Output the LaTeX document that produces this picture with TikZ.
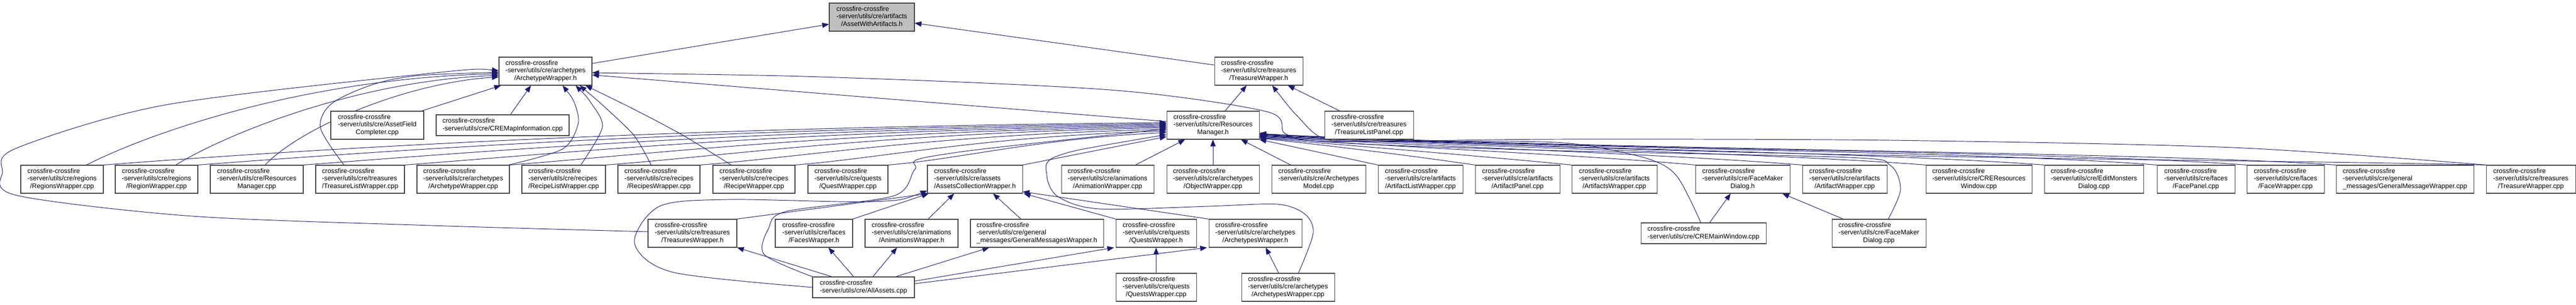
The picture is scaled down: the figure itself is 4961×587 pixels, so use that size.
\documentclass[tikz,border=0pt]{standalone}
\usepackage{fontspec}
\setmainfont{Liberation Sans}
\usetikzlibrary{arrows.meta,calc}
\definecolor{edgeblue}{RGB}{25,25,112}
\definecolor{curgray}{RGB}{191,191,191}
\pgfdeclarelayer{background}
\pgfsetlayers{background,main}
\newcommand{\flab}[3]{\begin{tabular}{@{}l@{}}#1\\#2\\\multicolumn{1}{@{}c@{}}{#3}\end{tabular}}
\newcommand{\flabb}[2]{\begin{tabular}{@{}l@{}}#1\\#2\end{tabular}}
\newcommand{\cfx}{crossfire-crossfire}
\newcommand{\srv}{-server/utils/cre/}

\begin{document}
\begin{tikzpicture}[x=0.02cm, y=-0.02cm,
	fb/.style={draw=black!75, line width=0.6pt, fill=white, inner sep=0pt, minimum height=1.08cm, font=\fontsize{7.3}{8.3}\selectfont},
	fbb/.style={fb, minimum height=0.8cm},
	wd/.style={minimum width=#1*0.02cm},
	dep/.style={{Triangle[length=0.26cm,width=0.2cm]}-, draw=edgeblue, line width=0.55pt}]
	\useasboundingbox (0,0) rectangle (4961,587);

	% row 1 and 2
	\node[fb, wd=164, fill=curgray] (aswa) at (1679,33) {\flab{\cfx}{\srv artifacts}{/AssetWithArtifacts.h}};
	\node[fb, wd=179] (arwh) at (1050.5,137) {\flab{\cfx}{\srv archetypes}{/ArchetypeWrapper.h}};
	\node[fb, wd=170] (trwh) at (2424,137) {\flab{\cfx}{\srv treasures}{/TreasureWrapper.h}};

	% row 3
	\node[fb, wd=179] (afc) at (726.5,241) {\flab{\cfx}{\srv AssetField}{Completer.cpp}};
	\node[fbb, wd=256] (cmi) at (968,241) {\flabb{\cfx}{\srv CREMapInformation.cpp}};
	\node[fb, wd=178] (rmh) at (2336,241) {\flab{\cfx}{\srv Resources}{Manager.h}};
	\node[fb, wd=171] (tlp) at (2636.5,241) {\flab{\cfx}{\srv treasures}{/TreasureListPanel.cpp}};

	% row 4
	\node[fb, wd=159] (rsw) at (119.5,345) {\flab{\cfx}{\srv regions}{/RegionsWrapper.cpp}};
	\node[fb, wd=159] (rgw) at (301.5,345) {\flab{\cfx}{\srv regions}{/RegionWrapper.cpp}};
	\node[fb, wd=179] (rmc) at (494.5,345) {\flab{\cfx}{\srv Resources}{Manager.cpp}};
	\node[fb, wd=171] (tlw) at (693.5,345) {\flab{\cfx}{\srv treasures}{/TreasureListWrapper.cpp}};
	\node[fb, wd=178] (awc) at (892,345) {\flab{\cfx}{\srv archetypes}{/ArchetypeWrapper.cpp}};
	\node[fb, wd=161] (rlw) at (1085.5,345) {\flab{\cfx}{\srv recipes}{/RecipeListWrapper.cpp}};
	\node[fb, wd=158] (rsc) at (1269,345) {\flab{\cfx}{\srv recipes}{/RecipesWrapper.cpp}};
	\node[fb, wd=158] (rpw) at (1452,345) {\flab{\cfx}{\srv recipes}{/RecipeWrapper.cpp}};
	\node[fb, wd=154] (qwc) at (1633,345) {\flab{\cfx}{\srv quests}{/QuestWrapper.cpp}};
	\node[fb, wd=183] (acw) at (1877.5,345) {\flab{\cfx}{\srv assets}{/AssetsCollectionWrapper.h}};
	\node[fb, wd=178] (anw) at (2133,345) {\flab{\cfx}{\srv animations}{/AnimationWrapper.cpp}};
	\node[fb, wd=178] (obw) at (2336,345) {\flab{\cfx}{\srv archetypes}{/ObjectWrapper.cpp}};
	\node[fb, wd=181] (amc) at (2539.5,345) {\flab{\cfx}{\srv Archetypes}{Model.cpp}};
	\node[fb, wd=163] (alw) at (2735.5,345) {\flab{\cfx}{\srv artifacts}{/ArtifactListWrapper.cpp}};
	\node[fb, wd=163] (apc) at (2922.5,345) {\flab{\cfx}{\srv artifacts}{/ArtifactPanel.cpp}};
	\node[fb, wd=164] (asw) at (3109,345) {\flab{\cfx}{\srv artifacts}{/ArtifactsWrapper.cpp}};
	\node[fb, wd=182] (fmh) at (3356,345) {\flab{\cfx}{\srv FaceMaker}{Dialog.h}};
	\node[fb, wd=163] (afw) at (3552.5,345) {\flab{\cfx}{\srv artifacts}{/ArtifactWrapper.cpp}};
	\node[fb, wd=204] (crw) at (3811,345) {\flab{\cfx}{\srv CREResources}{Window.cpp}};
	\node[fb, wd=191] (emd) at (4032.5,345) {\flab{\cfx}{\srv EditMonsters}{Dialog.cpp}};
	\node[fb, wd=150] (fpc) at (4229,345) {\flab{\cfx}{\srv faces}{/FacePanel.cpp}};
	\node[fb, wd=149] (fwc) at (4401.5,345) {\flab{\cfx}{\srv faces}{/FaceWrapper.cpp}};
	\node[fb, wd=265] (gmw) at (4631.5,345) {\flab{\cfx}{\srv general}{\_messages/GeneralMessageWrapper.cpp}};
	\node[fb, wd=172] (twc) at (4874,345) {\flab{\cfx}{\srv treasures}{/TreasureWrapper.cpp}};

	% row 5
	\node[fb, wd=171] (tsh) at (1333.5,449) {\flab{\cfx}{\srv treasures}{/TreasuresWrapper.h}};
	\node[fb, wd=149] (fsh) at (1567.5,449) {\flab{\cfx}{\srv faces}{/FacesWrapper.h}};
	\node[fb, wd=179] (ash) at (1755.5,449) {\flab{\cfx}{\srv animations}{/AnimationsWrapper.h}};
	\node[fb, wd=256] (gmh) at (1997,449) {\flab{\cfx}{\srv general}{\_messages/GeneralMessagesWrapper.h}};
	\node[fb, wd=155] (qsh) at (2226.5,449) {\flab{\cfx}{\srv quests}{/QuestsWrapper.h}};
	\node[fb, wd=179] (ath) at (2417.5,449) {\flab{\cfx}{\srv archetypes}{/ArchetypesWrapper.h}};
	\node[fbb, wd=241] (cmw) at (3280.5,449) {\flabb{\cfx}{\srv CREMainWindow.cpp}};
	\node[fb, wd=181] (fmc) at (3618.5,449) {\flab{\cfx}{\srv FaceMaker}{Dialog.cpp}};

	% row 6
	\node[fbb, wd=196] (aac) at (1663,553) {\flabb{\cfx}{\srv AllAssets.cpp}};
	\node[fb, wd=155] (qsc) at (2226.5,553) {\flab{\cfx}{\srv quests}{/QuestsWrapper.cpp}};
	\node[fb, wd=179] (atc) at (2480.5,553) {\flab{\cfx}{\srv archetypes}{/ArchetypesWrapper.cpp}};

	\begin{pgfonlayer}{background}
	% AssetWithArtifacts.h
	\draw[dep] (aswa) -- (arwh);
	\draw[dep] (aswa) -- (trwh);
	% TreasureWrapper.h
	\draw[dep] (trwh) -- (rmh);
	\draw[dep] (trwh) -- (tlp);
	\draw[dep] plot[smooth] coordinates {($(trwh.south)+(26,0)$) (2500,225) (2548,266) (2640,272) (3000,268) (3640,270) (4300,284) (twc.north west)};
	% ArchetypeWrapper.h
	\draw[dep] (arwh) -- (rmh);
	\draw[dep] (arwh) -- (afc);
	\draw[dep] ($(arwh.south)+(-28,0)$) -- ($(cmi.north)+(15,0)$);
	\draw[dep] plot[smooth] coordinates {($(arwh.west)+(0,-1)$) (830,141) (318,202) (32,285) (5,330) (32,376) (370,416) (830,434) ($(tsh.west)+(0,-3)$)};
	\draw[dep] ($(arwh.west)+(0,5)$) .. controls (600,150) and (300,250) .. ($(rsw.north)+(47,0)$);
	\draw[dep] ($(arwh.west)+(0,8)$) .. controls (700,155) and (450,250) .. ($(rgw.north)+(37,0)$);
	\draw[dep] ($(arwh.west)+(0,11)$) .. controls (780,160) and (580,245) .. ($(rmc.north)+(16,0)$);
	\draw[dep] plot[smooth] coordinates {($(arwh.west)+(0,2)$) (760,152) (645,195) (617,245) ($(tlw.north)+(-31,0)$)};
	\draw[dep] plot[smooth] coordinates {($(arwh.south)+(33,0)$) (1107,200) (1113,240) (1083,287) ($(awc.north east)+(-2,0)$)};
	\draw[dep] plot[smooth] coordinates {($(arwh.south)+(58,0)$) (1138,198) (1160,245) ($(rlw.north)+(33,0)$)};
	\draw[dep] plot[smooth] coordinates {($(arwh.south)+(66,0)$) (1169,210) (1222,262) ($(rsc.north)+(-15,0)$)};
	\draw[dep] plot[smooth] coordinates {($(arwh.south)+(77,0)$) (1230,215) (1318,262) ($(rpw.north)+(-44,0)$)};
	\draw[dep] plot[smooth] coordinates {($(arwh.east)+(0,3)$) (1640,150) (2150,174) (2440,215) (2475,257) (2550,272) (2907,272) (3041,278) (3175,306) (3230,340) ($(cmw.north)+(-5,0)$)};
	% ResourcesManager.h
	\draw[dep] ($(rmh.west)+(0,-5)$) .. controls (1250,245) and (560,290) .. (rsw.north east);
	\draw[dep] ($(rmh.west)+(0,-3)$) .. controls (1330,247) and (720,292) .. (rgw.north east);
	\draw[dep] ($(rmh.west)+(0,-1)$) .. controls (1420,249) and (900,294) .. (rmc.north east);
	\draw[dep] ($(rmh.west)+(0,1)$) .. controls (1510,251) and (1070,296) .. (tlw.north east);
	\draw[dep] ($(rmh.west)+(0,3)$) .. controls (1610,253) and (1240,298) .. (awc.north east);
	\draw[dep] ($(rmh.west)+(0,5)$) .. controls (1700,256) and (1400,300) .. (rlw.north east);
	\draw[dep] ($(rmh.west)+(0,8)$) .. controls (1800,259) and (1550,302) .. (rsc.north east);
	\draw[dep] ($(rmh.west)+(0,11)$) .. controls (1890,263) and (1700,304) .. (rpw.north east);
	\draw[dep] ($(rmh.west)+(0,14)$) .. controls (1990,268) and (1850,306) .. (qwc.north east);
	\draw[dep] ($(rmh.west)+(0,22)$) -- (acw.north east);
	\draw[dep] plot[smooth] coordinates {($(rmh.west)+(0,7)$) (1799,300) (1762,326) (1721,377) (1514,407) (1480,440) (1472,490) (aac.north west)};
	\draw[dep] plot[smooth] coordinates {($(rmh.west)+(0,18)$) (2037,300) (2016,337) (2037,378) (2116,402) (2328,397) (2460,393) (2513,412) (2529,449) ($(atc.north)+(20,0)$)};
	\draw[dep] (rmh) -- (anw);
	\draw[dep] (rmh) -- (obw);
	\draw[dep] (rmh) -- (amc);
	\draw[dep] (rmh.south east) -- (alw.north west);
	\draw[dep] ($(rmh.east)+(0,25)$) .. controls (2560,280) and (2720,300) .. (apc.north west);
	\draw[dep] ($(rmh.east)+(0,24)$) .. controls (2620,282) and (2850,300) .. (asw.north west);
	\draw[dep] ($(rmh.east)+(0,23)$) .. controls (2700,284) and (3050,298) .. (fmh.north west);
	\draw[dep] ($(rmh.east)+(0,22)$) .. controls (2800,284) and (3200,296) .. (afw.north west);
	\draw[dep] ($(rmh.east)+(0,21)$) .. controls (2880,285) and (3400,294) .. (crw.north west);
	\draw[dep] ($(rmh.east)+(0,20)$) .. controls (2950,286) and (3600,292) .. (emd.north west);
	\draw[dep] ($(rmh.east)+(0,19)$) .. controls (3050,288) and (3800,290) .. (fpc.north west);
	\draw[dep] ($(rmh.east)+(0,18)$) .. controls (3100,289) and (3950,290) .. (fwc.north west);
	\draw[dep] ($(rmh.east)+(0,17)$) .. controls (3150,290) and (4100,291) .. (gmw.north west);
	\draw[dep] ($(rmh.east)+(0,16)$) .. controls (3300,306) and (4300,306) .. (twc.north west);
	\draw[dep] plot[smooth] coordinates {($(rmh.east)+(0,15)$) (2600,276) (3000,290) (3560,303) (3640,318) (3660,365) ($(fmc.north)+(18,0)$)};
	% AssetsCollectionWrapper.h
	\draw[dep] ($(acw.south west)+(3,0)$) -- (tsh.north east);
	\draw[dep] ($(acw.south west)+(3,0)$) -- (fsh.north east);
	\draw[dep] ($(acw.south)+(-40,0)$) -- ($(ash.north)+(32,0)$);
	\draw[dep] ($(acw.south)+(35,0)$) -- ($(gmh.north)+(-31,0)$);
	\draw[dep] ($(acw.south east)+(2,0)$) -- (qsh.north west);
	\draw[dep] ($(acw.east)+(0,24)$) -- (ath.north west);
	\draw[dep] plot[smooth] coordinates {($(acw.west)+(0,22)$) (1683,388) (1402,384) (1270,397) (1222,468) (1296,524) (aac.west)};
	% FaceMakerDialog.h
	\draw[dep] ($(fmh.south)+(-23,0)$) -- ($(cmw.north)+(12,0)$);
	\draw[dep] ($(fmh.south east)+(-15,0)$) -- ($(fmc.north)+(-69,0)$);
	% row 5 headers
	\draw[dep] (tsh.south east) -- ($(aac.north)+(-61,0)$);
	\draw[dep] ($(fsh.south)+(28,0)$) -- ($(aac.north)+(-19,0)$);
	\draw[dep] ($(ash.south)+(-28,0)$) -- ($(aac.north)+(18,0)$);
	\draw[dep] ($(gmh.south)+(-92,0)$) -- ($(aac.north)+(62,0)$);
	\draw[dep] ($(qsh.south west)+(-3,0)$) -- ($(aac.east)+(0,-12)$);
	\draw[dep] ($(ath.south west)+(-3,0)$) -- ($(aac.east)+(0,-7)$);
	\draw[dep] (qsh) -- (qsc);
	\draw[dep] ($(ath.south)+(20,0)$) -- ($(atc.north)+(-18,0)$);
	\end{pgfonlayer}
\end{tikzpicture}
\end{document}
